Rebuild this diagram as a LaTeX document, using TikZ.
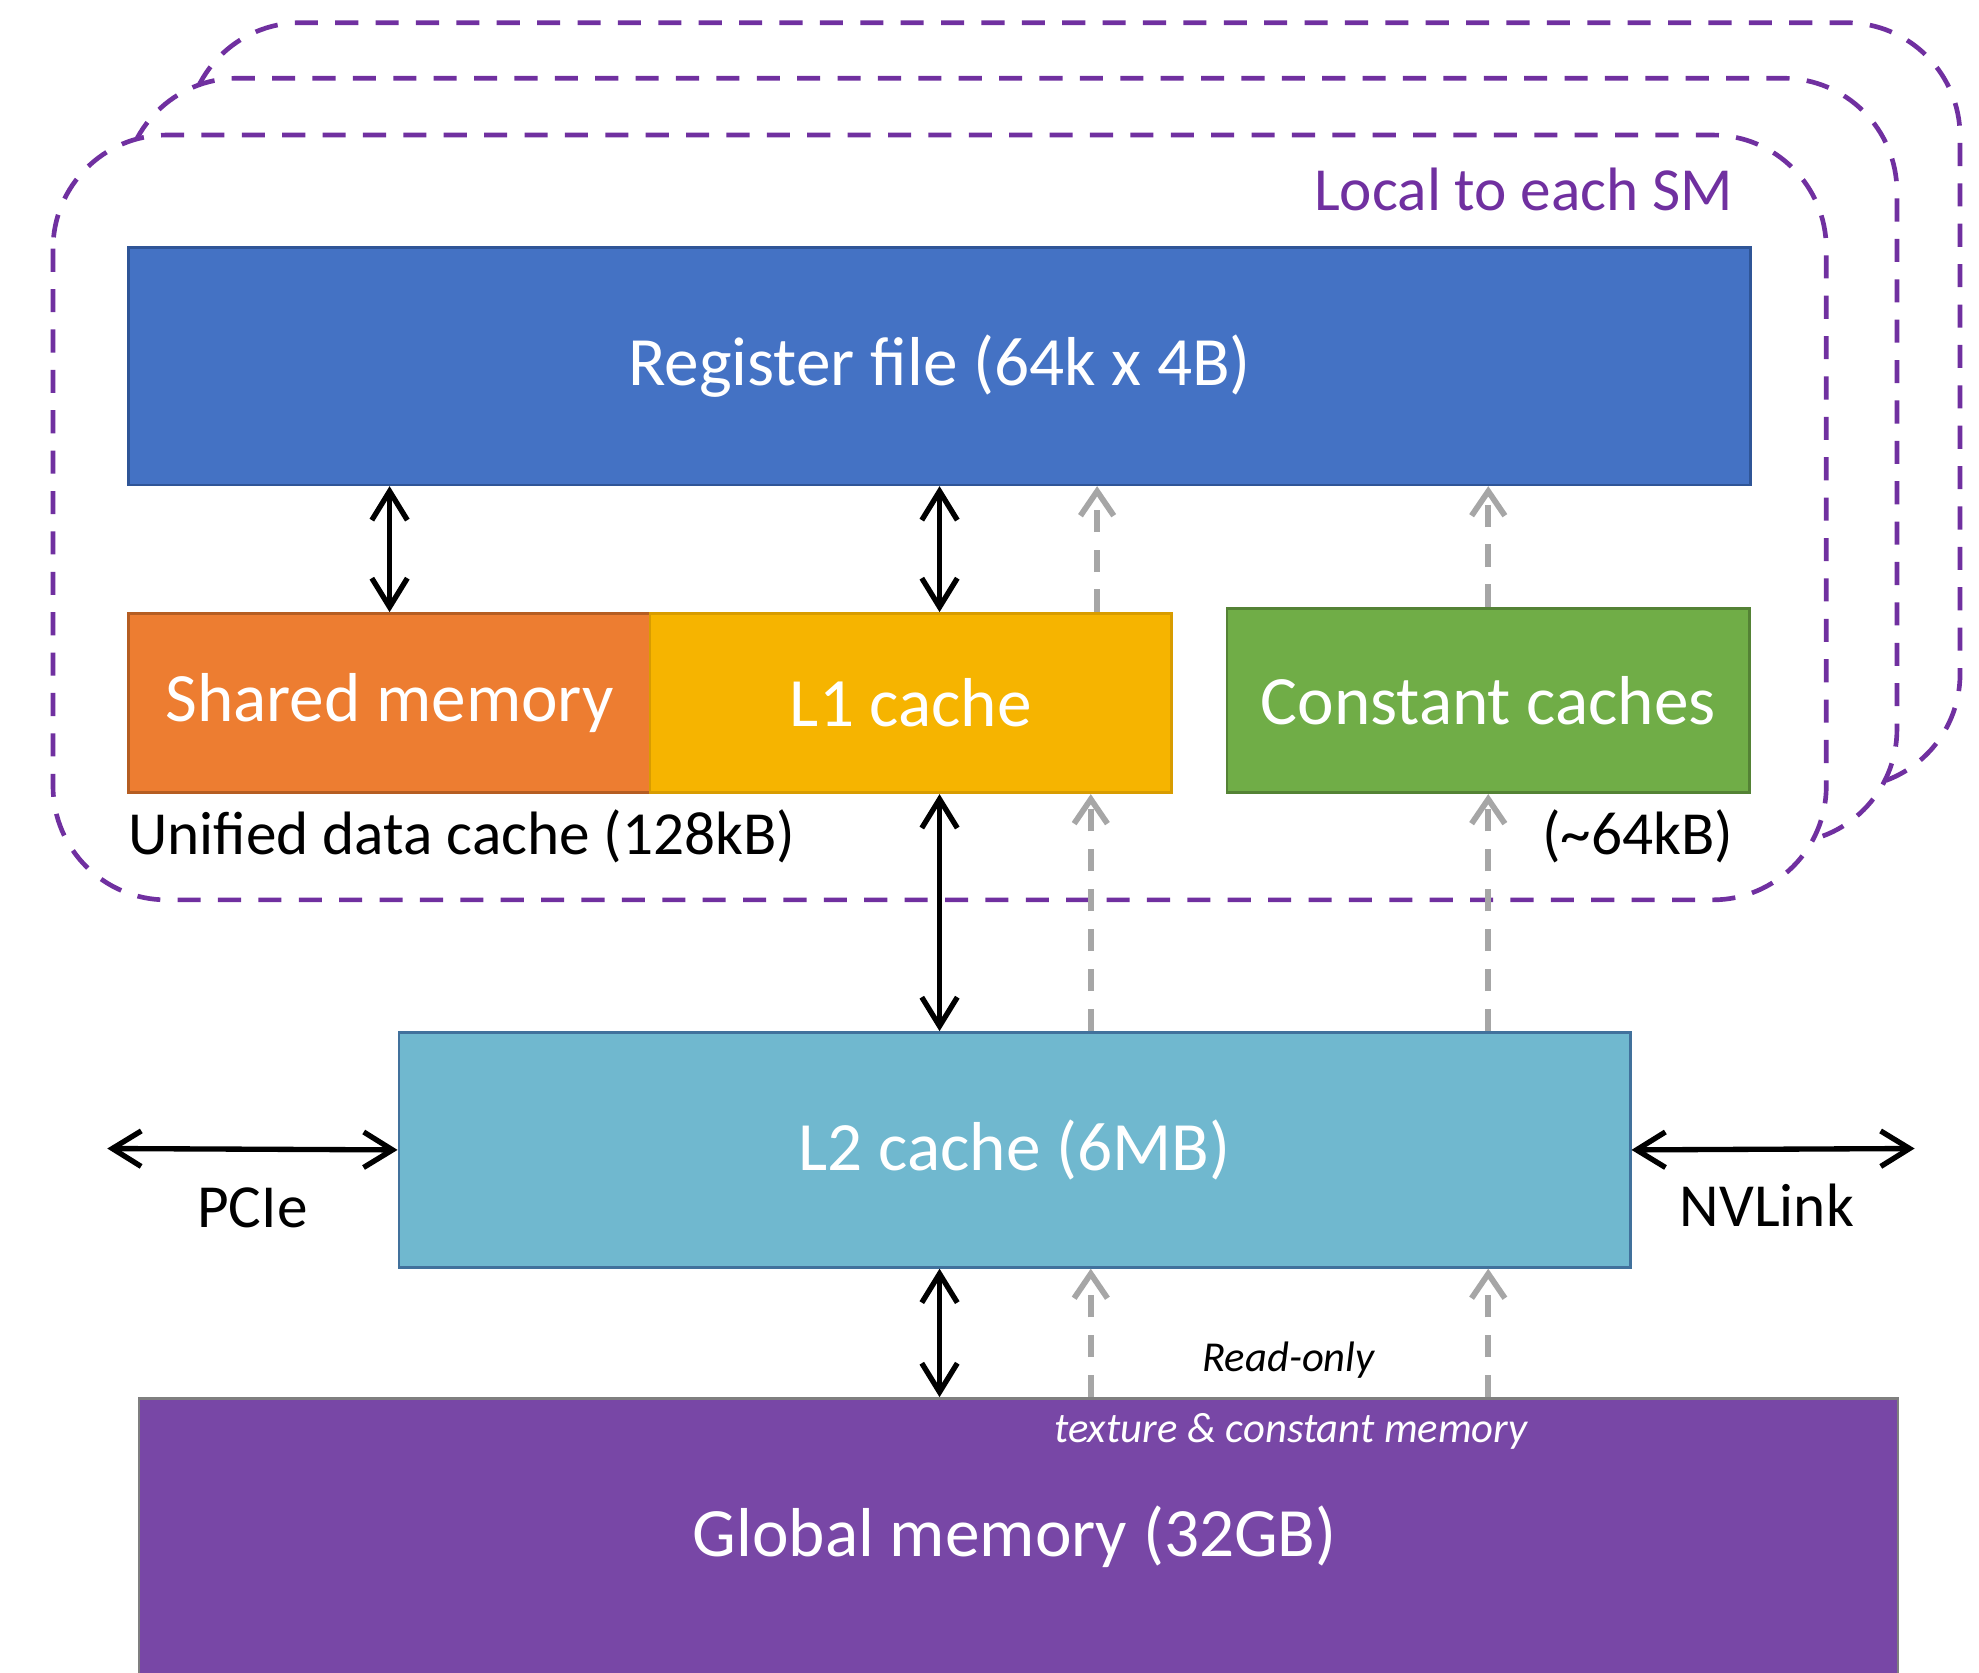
\documentclass[tikz,border=0pt]{standalone}
\usepackage{fontspec}
\setmainfont{Carlito}
\usetikzlibrary{arrows.meta,calc}
\definecolor{smpurple}{HTML}{7030A0}
\definecolor{regblue}{HTML}{4472C4}
\definecolor{regborder}{HTML}{2F5597}
\definecolor{shorange}{HTML}{ED7D31}
\definecolor{shborder}{HTML}{B55D22}
\definecolor{lonegold}{HTML}{F6B400}
\definecolor{loneborder}{HTML}{D89C00}
\definecolor{cgreen}{HTML}{70AD47}
\definecolor{cborder}{HTML}{548235}
\definecolor{ltwo}{HTML}{70B8CF}
\definecolor{ltwoborder}{HTML}{41719C}
\definecolor{gmem}{HTML}{7847A6}
\definecolor{gborder}{HTML}{7F7F7F}
\definecolor{rogray}{HTML}{A6A6A6}
\begin{document}
\begin{tikzpicture}[x=0.01cm,y=-0.01cm,
  smframe/.style={draw=smpurple, line width=1.05pt, dash pattern=on 5.2pt off 3.9pt, fill=white, rounded corners=0.9cm},
  blk/.style={draw, line width=0.6pt, anchor=north west, inner sep=0pt, text=white, font=\fontsize{15.6}{18}\selectfont},
  dbl/.style={line width=1.2pt, {Straight Barb[length=6.5pt,width=8pt,line width=1.2pt]}-{Straight Barb[length=6.5pt,width=8pt,line width=1.2pt]}},
  ro/.style={draw=rogray, line width=1.3pt, dash pattern=on 5.1pt off 3.9pt, -{Straight Barb[length=5.5pt,width=7.5pt,line width=1.3pt]}},
  lbl/.style={inner sep=0pt, font=\fontsize{13.8}{16}\selectfont},
  sml/.style={inner sep=0pt, font=\fontsize{9.6}{11}\selectfont\itshape}
]
\clip (0,0) rectangle (1568,1325);
\fill[white] (0,0) rectangle (1568,1325);

% SM frames (back to front)
\path[smframe] (148,18) rectangle (1553,624);
\path[smframe] (98,62) rectangle (1503,668);
\path[smframe] (42,107) rectangle (1447,713);
\node[lbl, text=smpurple, anchor=east] (local) at (1374,150) {Local to each SM};

% blocks
\node[blk, fill=regblue, draw=regborder, minimum width=12.84cm, minimum height=1.88cm] (reg) at (101,195) {Register file (64k x 4B)};
\node[blk, fill=shorange, draw=shborder, minimum width=4.13cm, minimum height=1.42cm] (shared) at (101,485) {Shared memory};
\node[blk, fill=lonegold, draw=loneborder, minimum width=4.13cm, minimum height=1.42cm] (lone) at (514,485) {L1 cache};
\node[blk, fill=cgreen, draw=cborder, minimum width=4.14cm, minimum height=1.46cm] (const) at (971,481) {Constant caches};
\node[blk, fill=ltwo, draw=ltwoborder, minimum width=9.75cm, minimum height=1.86cm] (ltwo) at (315,817) {L2 cache (6MB)};
\node[blk, fill=gmem, draw=gborder, minimum width=13.93cm, minimum height=3cm] (glob) at (109,1107) {};
\node[inner sep=0pt, text=white, font=\fontsize{15.6}{18}\selectfont] (globtxt) at (804,1218) {Global memory (32GB)};
\node[sml, text=white] (tex) at (1023,1134) {texture \& constant memory};

% labels
\node[lbl, anchor=west] (unified) at (101,663) {Unified data cache (128kB)};
\node[lbl, anchor=east] (cachesz) at (1374,663) {(\char`\~64kB)};
\node[lbl] (pcie) at (200,957) {PCIe};
\node[lbl] (nvlink) at (1400,955) {NVLink};
\node[sml] (readonly) at (1021,1078) {Read-only};

% coordinates for free ends
\coordinate (pcieend) at (85,910);
\coordinate (nvend) at (1517,910);

% black bidirectional arrows
\draw[dbl] (shared.north) -- (shared.north |- reg.south);
\draw[dbl] (reg.south) -- (reg.south |- lone.north);
\draw[dbl] (lone.south -| reg.south) -- (ltwo.north -| reg.south);
\draw[dbl] (ltwo.south -| reg.south) -- (glob.north -| reg.south);
\draw[dbl] (pcieend) -- (ltwo.west);
\draw[dbl] (ltwo.east) -- (nvend);

% read-only paths
\draw[ro] ([xshift=1.475cm]lone.north) -- ([xshift=1.475cm]lone.north |- reg.south);
\draw[ro] (const.north) -- (const.north |- reg.south);
\draw[ro] ([xshift=1.425cm]lone.south |- ltwo.north) -- ([xshift=1.425cm]lone.south);
\draw[ro] (const.south |- ltwo.north) -- (const.south);
\draw[ro] ([xshift=1.425cm]lone.south |- glob.north) -- ([xshift=1.425cm]lone.south |- ltwo.south);
\draw[ro] (const.south |- glob.north) -- (const.south |- ltwo.south);
\end{tikzpicture}
\end{document}
